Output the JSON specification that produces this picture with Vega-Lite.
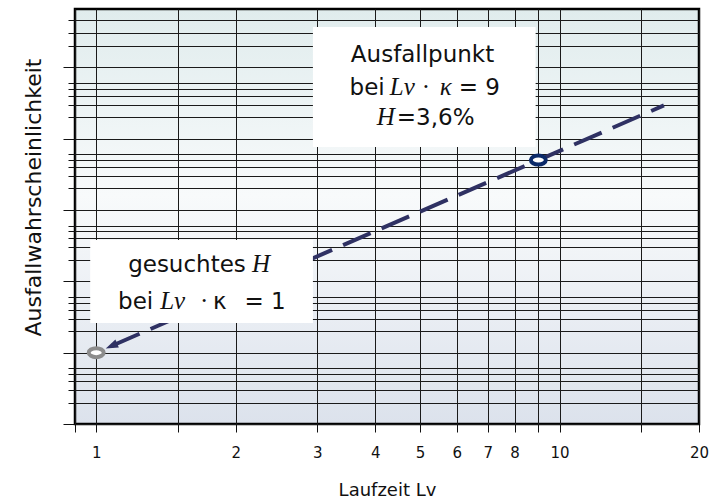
{
  "$schema": "https://vega.github.io/schema/vega-lite/v6.json",
  "width": 624,
  "height": 415,
  "autosize": "none",
  "padding": {"left": 75, "top": 9, "right": 13, "bottom": 77},
  "background": "white",
  "config": {
    "font": "DejaVu Sans",
    "view": {
      "fill": {
        "gradient": "linear", "x1": 0, "y1": 0, "x2": 0, "y2": 1,
        "stops": [
          {"offset": 0, "color": "#e0eced"},
          {"offset": 0.45, "color": "#f8fafb"},
          {"offset": 1, "color": "#dce2ec"}
        ]
      },
      "stroke": "#000000",
      "strokeWidth": 2.5
    },
    "axis": {
      "domain": false,
      "grid": true,
      "gridColor": "#1a1a1a",
      "gridWidth": 1,
      "gridOpacity": 1,
      "tickColor": "#111111",
      "tickWidth": 1,
      "labelColor": "#111111",
      "titleColor": "#111111",
      "titleFontWeight": "normal"
    }
  },
  "datasets": {
    "gerade": [
      {"Lv": 1.082, "H": 0.009},
      {"Lv": 16.8, "H": 21}
    ],
    "pfeil": [
      {"Lv": 1.082, "H": 0.009}
    ],
    "ausfall": [
      {"Lv": 9, "H": 3.6}
    ],
    "gesucht": [
      {"Lv": 1, "H": 0.0072}
    ],
    "kaesten": [
      {"Lv": 2.936, "Lv2": 8.88, "H": 5.49, "H2": 264},
      {"Lv": 0.9707, "Lv2": 2.936, "H": 0.01875, "H2": 0.273}
    ],
    "text_sans": [
      {"t": "Ausfallpunkt", "Lv": 3.545, "H": 84.5},
      {"t": "bei", "Lv": 3.523, "H": 29.4},
      {"t": "= 9", "Lv": 6.058, "H": 29.4},
      {"t": "=3,6%", "Lv": 4.454, "H": 11.17},
      {"t": "gesuchtes", "Lv": 1.172, "H": 0.0981},
      {"t": "bei", "Lv": 1.115, "H": 0.02945},
      {"t": "κ", "Lv": 1.787, "H": 0.02945},
      {"t": "= 1", "Lv": 2.09, "H": 0.02945}
    ],
    "text_kursiv": [
      {"t": "Lv", "Lv": 4.301, "H": 29.4},
      {"t": "κ", "Lv": 5.512, "H": 29.4},
      {"t": "H", "Lv": 4.033, "H": 11.17},
      {"t": "H", "Lv": 2.168, "H": 0.0981},
      {"t": "Lv", "Lv": 1.374, "H": 0.02945}
    ],
    "text_punkt": [
      {"t": "·", "Lv": 5.04, "H": 29.4},
      {"t": "·", "Lv": 1.675, "H": 0.02945}
    ]
  },
  "encoding": {
    "x": {
      "field": "Lv",
      "type": "quantitative",
      "scale": {"type": "log", "domain": [0.9, 20], "nice": false},
      "axis": {
        "title": "Laufzeit Lv",
        "values": [0.9, 1, 1.5, 2, 3, 4, 5, 6, 7, 8, 9, 10, 15, 20],
        "labelExpr": "indexof([1, 2, 3, 4, 5, 6, 7, 8, 10, 20], datum.value) >= 0 ? format(datum.value, 'd') : ''",
        "tickSize": 8,
        "labelFontSize": 15,
        "labelPadding": 13,
        "labelFlush": false,
        "labelOverlap": false,
        "titleFontSize": 18,
        "titlePadding": 21
      }
    },
    "y": {
      "field": "H",
      "type": "quantitative",
      "scale": {"type": "log", "domain": [0.00072, 472], "nice": false},
      "axis": {
        "title": "Ausfallwahrscheinlichkeit",
        "labels": false,
        "values": [
          0.00072, 0.00144, 0.00216, 0.00288, 0.0036, 0.00432,
          0.0072, 0.0144, 0.0216, 0.0288, 0.036, 0.0432,
          0.072, 0.144, 0.216, 0.288, 0.36, 0.432,
          0.72, 1.44, 2.16, 2.88, 3.6, 4.32,
          7.2, 14.4, 21.6, 28.8, 36, 43.2,
          72, 144, 216, 331
        ],
        "tickSize": {
          "condition": {
            "test": "indexof([0.00072, 0.0072, 0.072, 0.72, 7.2, 72], datum.value) >= 0",
            "value": 12
          },
          "value": 7
        },
        "titleFontSize": 22,
        "titlePadding": 17,
        "titleY": 188
      }
    }
  },
  "layer": [
    {
      "data": {"name": "gerade"},
      "mark": {"type": "line", "color": "#2f3163", "strokeWidth": 4, "strokeDash": [30, 12]}
    },
    {
      "data": {"name": "pfeil"},
      "mark": {
        "type": "point",
        "shape": "M0,-1 L0.62,0.8 L-0.62,0.8 Z",
        "filled": true,
        "color": "#2f3163",
        "opacity": 1,
        "size": 190,
        "angle": 246.5
      }
    },
    {
      "data": {"name": "kaesten"},
      "mark": {"type": "rect", "color": "#ffffff", "opacity": 1},
      "encoding": {
        "x2": {"field": "Lv2"},
        "y2": {"field": "H2"}
      }
    },
    {
      "data": {"name": "text_sans"},
      "mark": {"type": "text", "align": "left", "baseline": "alphabetic", "font": "DejaVu Sans", "fontSize": 23, "color": "#111111"},
      "encoding": {"text": {"field": "t"}}
    },
    {
      "data": {"name": "text_kursiv"},
      "mark": {"type": "text", "align": "left", "baseline": "alphabetic", "font": "Liberation Serif", "fontStyle": "italic", "fontSize": 25, "color": "#111111"},
      "encoding": {"text": {"field": "t"}}
    },
    {
      "data": {"name": "text_punkt"},
      "mark": {"type": "text", "align": "left", "baseline": "alphabetic", "font": "Liberation Serif", "fontSize": 25, "color": "#111111"},
      "encoding": {"text": {"field": "t"}}
    },
    {
      "data": {"name": "ausfall"},
      "mark": {
        "type": "point",
        "shape": "M-1,0 A1,0.6 0 1,1 1,0 A1,0.6 0 1,1 -1,0 Z",
        "filled": false,
        "fill": "#ffffff",
        "fillOpacity": 1,
        "stroke": "#0b2a6a",
        "strokeWidth": 4,
        "opacity": 1,
        "size": 225
      }
    },
    {
      "data": {"name": "gesucht"},
      "mark": {
        "type": "point",
        "shape": "M-1,0 A1,0.6 0 1,1 1,0 A1,0.6 0 1,1 -1,0 Z",
        "filled": false,
        "fill": "#ffffff",
        "fillOpacity": 1,
        "stroke": "#8c8c8c",
        "strokeWidth": 4,
        "opacity": 1,
        "size": 225
      }
    }
  ]
}
